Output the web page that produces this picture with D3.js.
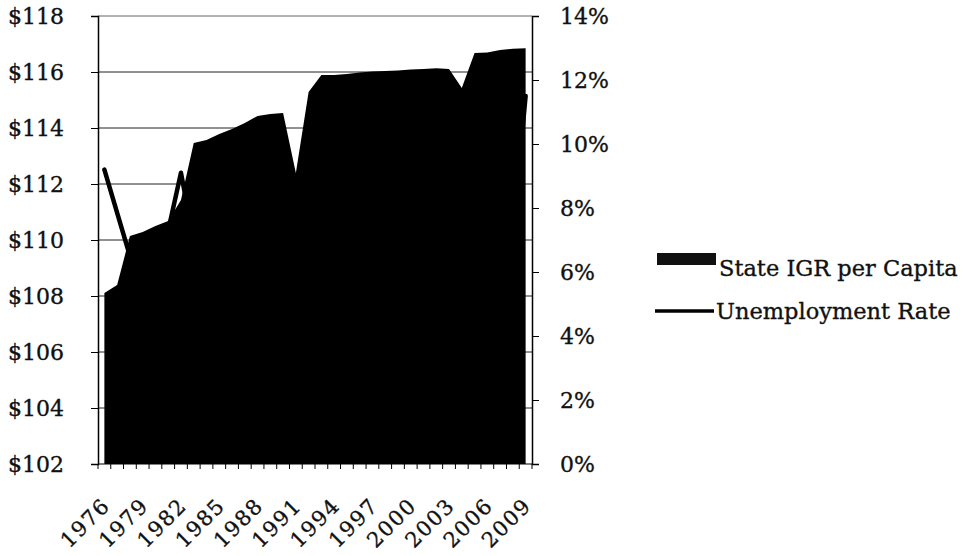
<!DOCTYPE html>
<html>
<head>
<meta charset="utf-8">
<script src="https://cdn.jsdelivr.net/npm/d3@7/dist/d3.min.js"></script>
<style>
  html, body { margin: 0; padding: 0; background: #fff; }
  svg { display: block; }
  text { font-family: "DejaVu Serif", serif; fill: #111; stroke: #111; stroke-width: 0.35px; }
</style>
</head>
<body>
<script>
// ---- data ----
const years = ["1976","1977","1978","1979","1980","1981","1982","1983","1984","1985",
  "1986","1987","1988","1989","1990","1991","1992","1993","1994","1995","1996","1997",
  "1998","1999","2000","2001","2002","2003","2004","2005","2006","2007","2008","2009"];
const igrPerCapita = [108.11,108.39,110.14,110.29,110.50,110.68,111.43,113.46,113.57,113.79,
  113.96,114.18,114.43,114.50,114.54,112.39,115.29,115.89,115.89,115.93,115.98,116.02,
  116.04,116.05,116.09,116.11,116.13,116.11,115.43,116.68,116.70,116.79,116.83,116.85];
const unemploymentRate = [9.2,7.85,6.5,6.3,6.6,7.3,9.1,7.0,7.8,7.2,
  6.7,5.8,5.3,5.1,5.8,7.7,9.3,9.5,8.6,7.8,7.2,6.3,
  5.9,5.2,4.9,5.4,6.7,6.8,6.2,5.4,4.9,5.4,7.2,11.5];
const leftTicks = [102,104,106,108,110,112,114,116,118];
const rightTicks = [0,2,4,6,8,10,12,14];
const xLabels = ["1976","1979","1982","1985","1988","1991","1994","1997","2000","2003","2006","2009"];
const seriesNames = ["State IGR per Capita","Unemployment Rate"];

// ---- layout ----
const W = 963, H = 556;
const L = 98, R = 532, T = 16, B = 464;

const svg = d3.select("body").append("svg").attr("width", W).attr("height", H);

const x = d3.scaleBand().domain(years).range([L, R]).padding(0);
const cx = d => x(d) + x.bandwidth() / 2;
const yL = d3.scaleLinear().domain([102, 118]).range([B, T]);
const yR = d3.scaleLinear().domain([0, 14]).range([B, T]);

// gridlines
svg.append("g").selectAll("line").data(leftTicks.filter(d => d !== 102)).join("line")
  .attr("x1", L).attr("x2", R)
  .attr("y1", d => yL(d)).attr("y2", d => yL(d))
  .attr("stroke", d => d === 118 ? "#666" : "#222").attr("stroke-width", 1);

// area
const area = d3.area()
  .x((d, i) => cx(years[i]))
  .y0(B)
  .y1(d => yL(d));
svg.append("path").datum(igrPerCapita)
  .attr("d", area).attr("fill", "#000");

// line
const line = d3.line()
  .x((d, i) => cx(years[i]))
  .y(d => yR(d));
svg.append("path").datum(unemploymentRate)
  .attr("d", line).attr("fill", "none")
  .attr("stroke", "#000").attr("stroke-width", 4.5)
  .attr("stroke-linejoin", "round").attr("stroke-linecap", "round");

// left axis
const axL = svg.append("g").attr("transform", `translate(${L},0)`)
  .call(d3.axisLeft(yL).tickValues(leftTicks).tickFormat(d => "$" + d)
    .tickSize(7).tickPadding(27));
axL.select(".domain").attr("stroke", "#000").attr("stroke-width", 1.5);
axL.selectAll(".tick line").attr("stroke", "#000");
axL.selectAll("text").style("font-family", "DejaVu Serif").style("font-size", "22px").attr("fill", "#111");

// right axis
const axR = svg.append("g").attr("transform", `translate(${R},0)`)
  .call(d3.axisRight(yR).tickValues(rightTicks).tickFormat(d => d + "%")
    .tickSize(7).tickPadding(21));
axR.select(".domain").attr("stroke", "#000").attr("stroke-width", 1.5);
axR.selectAll(".tick line").attr("stroke", "#000");
axR.selectAll("text").style("font-family", "DejaVu Serif").style("font-size", "22px").attr("fill", "#111");

// bottom axis
svg.append("line").attr("x1", L).attr("x2", R).attr("y1", B).attr("y2", B)
  .attr("stroke", "#000").attr("stroke-width", 1.2);
const bounds = years.map(d => x(d)).concat([R]);
svg.append("g").selectAll("line").data(bounds).join("line")
  .attr("x1", d => d).attr("x2", d => d)
  .attr("y1", B).attr("y2", B + 5)
  .attr("stroke", "#000").attr("stroke-width", 1);

svg.append("g").selectAll("text").data(xLabels).join("text")
  .attr("transform", d => `translate(${cx(d) + 7},${B + 43}) rotate(-45)`)
  .attr("text-anchor", "end")
  .style("font-size", "21px")
  .style("letter-spacing", "1.5px")
  .text(d => d);

// legend
const lg = svg.append("g");
lg.append("rect").attr("x", 657).attr("y", 253).attr("width", 59).attr("height", 12).attr("fill", "#111");
lg.append("text").attr("x", 719).attr("y", 276).style("font-size", "22.5px").text(seriesNames[0]);
lg.append("line").attr("x1", 655).attr("x2", 714).attr("y1", 311).attr("y2", 311)
  .attr("stroke", "#000").attr("stroke-width", 3.5);
lg.append("text").attr("x", 716).attr("y", 319).style("font-size", "22.5px").text(seriesNames[1]);
</script>
</body>
</html>
